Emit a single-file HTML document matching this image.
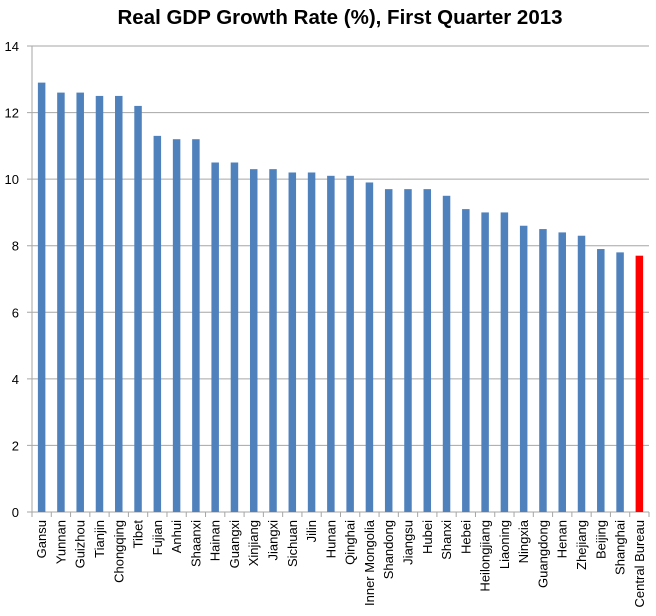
<!DOCTYPE html>
<html><head><meta charset="utf-8"><style>
body{margin:0;background:#fff;}
svg{display:block;font-family:"Liberation Sans",sans-serif;}
</style></head><body>
<svg id="c" width="656" height="616">
<text x="340" y="24" text-anchor="middle" font-size="20.5" font-weight="bold">Real GDP Growth Rate (%), First Quarter 2013</text>
<g id="grid"></g><g id="bars"></g><g id="xl"></g>
</svg>
<script>
const categories=["Gansu","Yunnan","Guizhou","Tianjin","Chongqing","Tibet","Fujian","Anhui","Shaanxi","Hainan","Guangxi","Xinjiang","Jiangxi","Sichuan","Jilin","Hunan","Qinghai","Inner Mongolia","Shandong","Jiangsu","Hubei","Shanxi","Hebei","Heilongjiang","Liaoning","Ningxia","Guangdong","Henan","Zhejiang","Beijing","Shanghai","Central Bureau"];
const values=[12.9,12.6,12.6,12.5,12.5,12.2,11.3,11.2,11.2,10.5,10.5,10.3,10.3,10.2,10.2,10.1,10.1,9.9,9.7,9.7,9.7,9.5,9.1,9.0,9.0,8.6,8.5,8.4,8.3,7.9,7.8,7.7];
const yTicks=[0,2,4,6,8,10,12,14];
const NS="http://www.w3.org/2000/svg";
const L=32,R=649,T=46,B=512,yMax=14;
const y=v=>B-(v/yMax)*(B-T);
const slot=(R-L)/categories.length;
const x=i=>L+slot*(i+0.5);
function mk(tag,attrs,parent){const e=document.createElementNS(NS,tag);for(const k in attrs)e.setAttribute(k,attrs[k]);parent.appendChild(e);return e;}
const grid=document.getElementById('grid'),bars=document.getElementById('bars'),xl=document.getElementById('xl');
yTicks.forEach(t=>{
  const ln=mk('line',{x1:L-5,x2:R,y1:y(t),y2:y(t),stroke:'#a6a6a6','stroke-width':1},grid);
  
  
  const tx=mk('text',{x:L-13,y:y(t)+5,'text-anchor':'end','font-size':13},grid);
  tx.textContent=t;
  
  
});
const ax=mk('line',{x1:L,x2:L,y1:T,y2:B,stroke:'#a6a6a6'},grid);


for(let i=0;i<=categories.length;i++){
  const tk=mk('line',{x1:L+slot*i,x2:L+slot*i,y1:B,y2:B+5,stroke:'#a6a6a6'},grid);
  
  
}
categories.forEach((c,i)=>{
  const w=7.5,last=i===categories.length-1;
  const r=mk('rect',{x:x(i)-w/2,y:y(values[i]),width:w,height:B-y(values[i]),fill:last?'#ff0000':'#4f81bd'},bars);
  
  
  const t=mk('text',{x:0,y:0,'text-anchor':'end','font-size':13,transform:`translate(${x(i)+4.5},${B+8}) rotate(-90)`},xl);
  t.textContent=c;
  
  
});
</script>
</body></html>
